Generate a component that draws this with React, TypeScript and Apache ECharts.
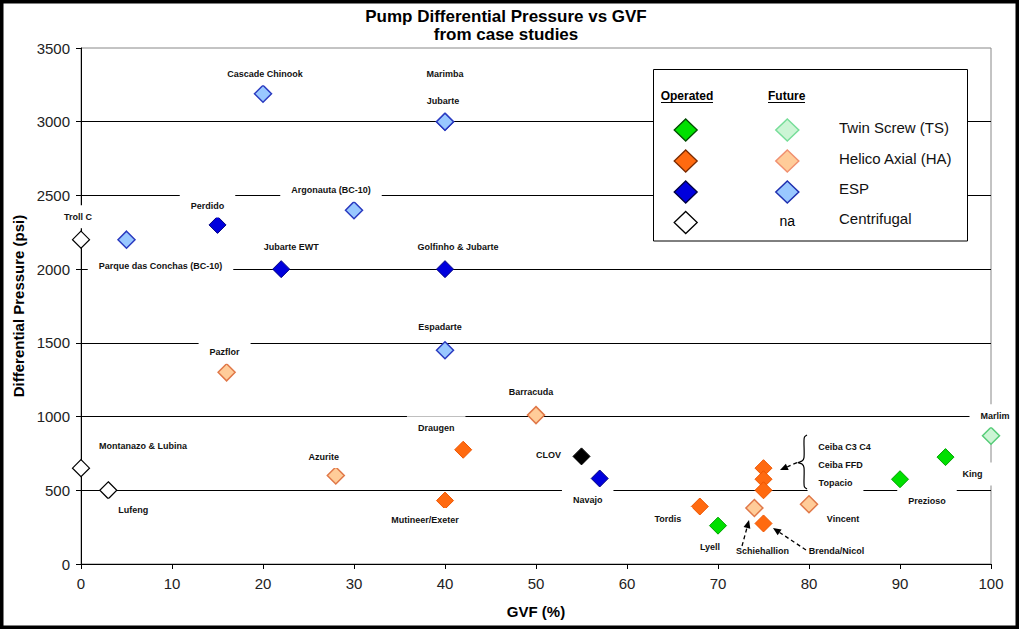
import React, { useEffect, useRef } from "react";
import * as echarts from "echarts";

type Pt = [string, number, number];

// GVF (%), differential pressure (psi)
const tsOperated: Pt[] = [["Lyell", 70, 260], ["Prezioso", 90, 575], ["King", 95, 725]];
const tsFuture: Pt[] = [["Marlim", 100, 870]];
const haOperated: Pt[] = [
  ["Draugen", 42, 775], ["Mutineer/Exeter", 40, 430], ["Ceiba C3 C4", 75, 650],
  ["Ceiba FFD", 75, 575], ["Topacio", 75, 500], ["Tordis", 68, 390], ["Brenda/Nicol", 75, 275],
];
const haFuture: Pt[] = [
  ["Pazflor", 16, 1300], ["Azurite", 28, 600], ["Barracuda", 50, 1010],
  ["Schiehallion", 74, 380], ["Vincent", 80, 405],
];
const espOperated: Pt[] = [
  ["Perdido", 15, 2300], ["Jubarte EWT", 22, 2000], ["Golfinho & Jubarte", 40, 2000], ["Navajo", 57, 580],
];
const espFuture: Pt[] = [
  ["Cascade Chinook", 20, 3190], ["Marimba", 40, 3000], ["Jubarte", 40, 3000],
  ["Argonauta (BC-10)", 30, 2400], ["Parque das Conchas (BC-10)", 5, 2200], ["Espadarte", 40, 1450],
];
const centrifugal: Pt[] = [["Troll C", 0, 2200], ["Montanazo & Lubina", 0, 650], ["Lufeng", 3, 500]];
const otherPumps: Pt[] = [["CLOV", 55, 730]];

const xMin = 0, xMax = 100, xStep = 10;
const yMin = 0, yMax = 3500, yStep = 500;

const legendRows = ["Twin Screw (TS)", "Helico Axial (HA)", "ESP", "Centrifugal"];

// label placement (pixel offsets of label centre from its marker)
const labelOffset: Record<string, [number, number]> = {
  "Cascade Chinook": [2, -20], Marimba: [0, -48], Jubarte: [-2, -21], "Argonauta (BC-10)": [-23, -20],
  Perdido: [-10, -19], "Troll C": [-3, -23], "Parque das Conchas (BC-10)": [34, 26],
  "Jubarte EWT": [10, -22], "Golfinho & Jubarte": [13, -22], Espadarte: [-5, -23], Pazflor: [-2, -20],
  "Montanazo & Lubina": [62, -22], Lufeng: [25, 20], Azurite: [-12, -19], Draugen: [-27, -22],
  "Mutineer/Exeter": [-20, 19], Barracuda: [-5, -23], CLOV: [-33, -1], Navajo: [-12, 22],
  "Ceiba C3 C4": [81, -21], "Ceiba FFD": [77, -14], Topacio: [72, -7], Tordis: [-32, 12],
  Schiehallion: [8, 43], "Brenda/Nicol": [73, 28], Lyell: [-8, 21], Vincent: [34, 15],
  Prezioso: [27, 22], King: [27, 17], Marlim: [4, -20],
};

const FONT = "'Liberation Sans', Arial, sans-serif";

export default function App() {
  const ref = useRef<HTMLDivElement>(null);
  useEffect(() => {
    if (!ref.current) return;
    const chart = echarts.init(ref.current, undefined, { renderer: "svg" });

    const mk = (name: string, pts: Pt[], fill: string, stroke: string, lw: number) => ({
      type: "scatter",
      name,
      symbol: "diamond",
      symbolSize: 17,
      clip: false,
      silent: true,
      emphasis: { disabled: true },
      itemStyle: { color: fill, borderColor: stroke, borderWidth: lw, opacity: 1 },
      label: {
        show: true,
        position: "inside",
        formatter: "{b}",
        color: "#111",
        fontFamily: FONT,
        fontSize: 9,
        fontWeight: "bold",
        backgroundColor: "#fff",
        padding: [7, 11],
        textBorderWidth: 0,
      },
      data: pts.map(([n, x, y]) => ({ name: n, value: [x, y], label: { offset: labelOffset[n] || [0, -20] } })),
    });

    chart.setOption({
      animation: false,
      backgroundColor: "#fff",
      grid: { left: 81, right: 28, top: 48, bottom: 65, show: true, borderColor: "#888", borderWidth: 1, backgroundColor: "transparent" },
      xAxis: {
        type: "value", min: xMin, max: xMax, interval: xStep,
        axisLine: { show: true, lineStyle: { color: "#000", width: 1 } },
        axisTick: { show: true, length: 5, lineStyle: { color: "#000" } },
        axisLabel: { fontSize: 15, color: "#222", fontFamily: FONT, margin: 12, formatter: (v: number) => String(v) },
        splitLine: { show: false },
        name: "GVF (%)", nameLocation: "middle", nameGap: 40,
        nameTextStyle: { fontSize: 15, fontWeight: "bold", color: "#000", fontFamily: FONT },
      },
      yAxis: {
        type: "value", min: yMin, max: yMax, interval: yStep,
        axisLine: { show: true, lineStyle: { color: "#000", width: 1 } },
        axisTick: { show: true, length: 5, lineStyle: { color: "#000" } },
        axisLabel: { fontSize: 15, color: "#222", fontFamily: FONT, margin: 11, formatter: (v: number) => String(v) },
        splitLine: { show: true, showMaxLine: false, lineStyle: { color: "#000", width: 1 } },
        name: "Differential Pressure (psi)", nameLocation: "middle", nameGap: 48, nameRotate: 90,
        nameTextStyle: { fontSize: 15, fontWeight: "bold", color: "#000", fontFamily: FONT },
      },
      series: [
        mk("TS operated", tsOperated, "#00e000", "#00a000", 1),
        mk("TS future", tsFuture, "#ccf5d5", "#55cc77", 1.5),
        mk("HA operated", haOperated, "#ff6a10", "#ee5500", 1),
        mk("HA future", haFuture, "#ffcc99", "#e07848", 1.5),
        mk("ESP operated", espOperated, "#0000dd", "#000080", 1),
        mk("ESP future", espFuture, "#99c8ff", "#2a3ac0", 1.5),
        mk("Centrifugal", centrifugal, "#ffffff", "#000000", 1.2),
        mk("Other", otherPumps, "#000000", "#000000", 1),
      ],
    });

    const px = (x: number, y: number) => chart.convertToPixel({ gridIndex: 0 }, [x, y]) as number[];

    const arrow = (from: number[], to: number[]) => {
      const dx = to[0] - from[0], dy = to[1] - from[1];
      const len = Math.hypot(dx, dy);
      const ux = dx / len, uy = dy / len;
      const hl = 8, hw = 3.5;
      const bx = to[0] - ux * hl, by = to[1] - uy * hl;
      return [
        { type: "line", z: 120, shape: { x1: from[0], y1: from[1], x2: bx, y2: by }, style: { stroke: "#000", lineWidth: 1.3, lineDash: [4, 3] } },
        { type: "polygon", z: 120, shape: { points: [[to[0], to[1]], [bx - uy * hw, by + ux * hw], [bx + uy * hw, by - ux * hw]] }, style: { fill: "#000" } },
      ];
    };

    // annotation anchors in data space
    const braceTop = px(79.78, 875), braceBot = px(79.78, 509), braceTip = px(78.79, 688);
    const bxv = braceTop[0];
    const braceMid = braceTip[1];
    const brace = {
      type: "polyline", z: 120,
      shape: {
        points: [
          [bxv, braceTop[1]], [bxv - 2.5, braceTop[1] + 2], [bxv - 3, braceTop[1] + 6],
          [bxv - 3, braceMid - 5], [bxv - 5, braceMid - 1.5], [braceTip[0], braceMid],
          [bxv - 5, braceMid + 1.5], [bxv - 3, braceMid + 5], [bxv - 3, braceBot[1] - 6],
          [bxv - 2.5, braceBot[1] - 2], [bxv, braceBot[1]],
        ],
        smooth: 0.3,
      },
      style: { stroke: "#000", lineWidth: 1.2, fill: null },
    };

    const diamond = (cx: number, cy: number, fill: string, stroke: string, lw = 1.3) => ({
      type: "polygon", z: 110,
      shape: { points: [[cx, cy - 11], [cx + 11.5, cy], [cx, cy + 11], [cx - 11.5, cy]] },
      style: { fill, stroke, lineWidth: lw },
    });
    const rowsY = [130, 161, 192, 222.5];
    const labelY = [127.7, 158, 188.7, 218];
    const opCol = 685.7, futCol = 787.3;
    const opFill = [["#00e000", "#004d00"], ["#ff6a10", "#7a2a00"], ["#0000dd", "#000040"], ["#ffffff", "#000000"]];
    const futFill = [["#ccf5d5", "#77dd99"], ["#ffcc99", "#f09070"], ["#99c8ff", "#2030b0"]];

    const legendEls: any[] = [
      { type: "rect", z: 105, shape: { x: 653.5, y: 69.5, width: 314, height: 171.5 }, style: { fill: "#fff", stroke: "#000", lineWidth: 1 } },
      { type: "text", z: 110, style: { text: "Operated", x: 687, y: 95.7, textAlign: "center", textVerticalAlign: "middle", font: `bold 12px ${FONT}`, fill: "#000" } },
      { type: "line", z: 110, shape: { x1: 661, y1: 102.5, x2: 713, y2: 102.5 }, style: { stroke: "#000", lineWidth: 1 } },
      { type: "text", z: 110, style: { text: "Future", x: 786.7, y: 95.7, textAlign: "center", textVerticalAlign: "middle", font: `bold 12px ${FONT}`, fill: "#000" } },
      { type: "line", z: 110, shape: { x1: 768, y1: 102.5, x2: 805, y2: 102.5 }, style: { stroke: "#000", lineWidth: 1 } },
      { type: "text", z: 110, style: { text: "na", x: futCol, y: 220.7, textAlign: "center", textVerticalAlign: "middle", font: `14px ${FONT}`, fill: "#000" } },
    ];
    legendRows.forEach((t, i) => {
      legendEls.push(diamond(opCol, rowsY[i], opFill[i][0], opFill[i][1]));
      if (i < 3) legendEls.push(diamond(futCol, rowsY[i], futFill[i][0], futFill[i][1], 1.5));
      legendEls.push({ type: "text", z: 110, style: { text: t, x: 839, y: labelY[i], textVerticalAlign: "middle", font: `15px ${FONT}`, fill: "#111" } });
    });

    chart.setOption({
      graphic: [
        { type: "text", z: 110, style: { text: "Pump Differential Pressure vs GVF\nfrom case studies", x: 506, y: 7, textAlign: "center", font: `bold 17px ${FONT}`, lineHeight: 18, fill: "#000" } },
        ...legendEls,
        brace,
        ...arrow([braceTip[0] - 1, braceMid], px(76.81, 637)),
        ...arrow(px(72.64, 122), px(73.41, 298)),
        ...arrow(px(79.67, 95), px(76.04, 244)),
        { type: "rect", z: 200, shape: { x: 0, y: 0, width: 1019, height: 629 }, style: { fill: null, stroke: "#000", lineWidth: 7 } },
      ],
    });

    return () => chart.dispose();
  }, []);
  return <div ref={ref} style={{ position: "absolute", left: 0, top: 0, width: 1019, height: 629 }} />;
}
